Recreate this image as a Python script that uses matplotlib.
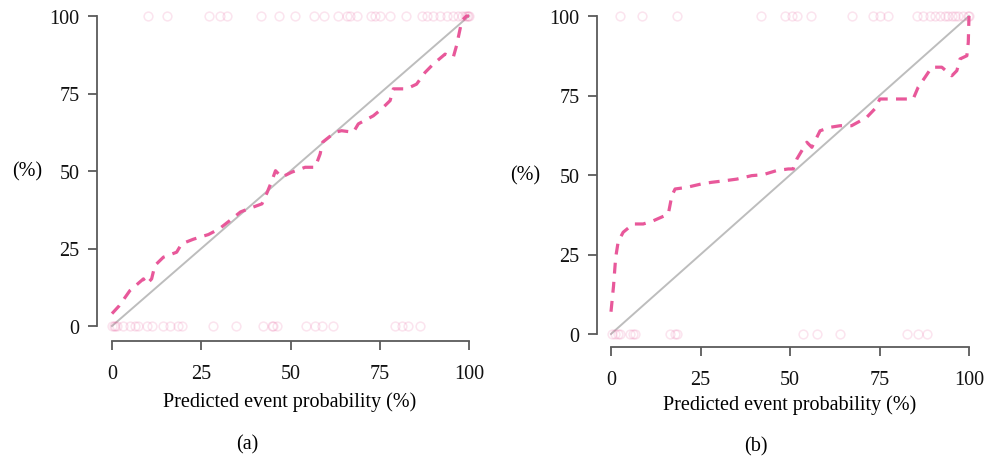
import numpy as np
import matplotlib
matplotlib.use("Agg")
import matplotlib.pyplot as plt

plt.rcParams["font.family"] = ["Liberation Serif", "DejaVu Serif"]

PINK = "#e8589a"
GREY_LINE = "#bdbdbd"
SPINE = "#5a5a5a"

# panel (a): calibration curve
a_curve_x = [0, 2, 5, 8.8, 9.7, 11.1, 12, 14.4, 18.1, 19.5, 22.8, 27, 30, 33, 36, 38,
             42, 43.5, 44.8, 45.8, 47.5, 50.3, 54.1, 56.9, 58.3, 59, 62.5, 64.3,
             67.6, 69, 73.2, 75.5, 77.9, 78.8, 82.5, 85.3, 87.7, 90, 93.3, 95.6,
             96.5, 97, 98, 99.3, 100]
a_curve_y = [4, 6.5, 11.4, 15.2, 13.5, 15.2, 19.5, 22.2, 23.8, 26.5, 28, 29.5, 31.3,
             34, 36.8, 37.7, 39.4, 43.2, 46.9, 50.1, 48, 49.6, 51.2, 51.2, 55.5,
             59.3, 62.5, 63, 62.5, 65.2, 67.8, 70, 72.7, 76.5, 76.5, 78, 81.8,
             84.5, 87.7, 86.7, 90.4, 93.1, 98.5, 100, 100]
# observed outcomes (rug of events / non-events)
a_events_x = [10, 15.5, 27.2, 30.3, 32.1, 41.7, 46.9, 51.2, 56.7, 59.3, 63.2, 65.8,
              66.7, 68.6, 72.5, 73.7, 75, 77.9, 82.4, 86.8, 88.2, 90, 91.9, 93.8,
              95.6, 97, 98, 98.9, 99.5, 99.8, 100]
a_nonevents_x = [0.1, 0.5, 0.8, 1.3, 3.2, 5, 6.4, 7.4, 9.7, 11.1, 14.4, 16.2, 18.6,
                 19.5, 28.4, 34.7, 42.4, 44.7, 45.2, 46.1, 54.3, 56.9, 58.7, 62,
                 79.3, 81.1, 83, 86.3]

# panel (b)
b_curve_x = [0, 0.7, 1.3, 2, 3.4, 6.2, 9, 11.8, 16, 17, 17.9, 21.1, 25.3, 28.1,
             31.8, 35.1, 39.3, 42.5, 46.3, 49.5, 50.9, 51.9, 54.7, 56.1, 58.4,
             61.2, 64, 67.2, 71.4, 73.7, 75.1, 79.8, 84.4, 85.8, 87.7, 89.6, 92.4,
             95.2, 96.6, 97.5, 99.4, 99.8, 100]
b_curve_y = [7, 15, 24, 29, 32, 34.6, 34.6, 35.6, 37.7, 43.5, 45.6, 46.1, 47.2,
             47.7, 48.2, 48.7, 49.8, 50.1, 51.4, 51.9, 51.9, 55, 60.3, 58.7, 63.9,
             65, 65.5, 65.5, 68.1, 70.8, 73.9, 73.9, 73.9, 77.6, 80.7, 83.9, 83.9,
             81.2, 82.8, 86.5, 87.5, 91.7, 100]
b_events_x = [2.5, 8.6, 18.5, 41.8, 48.6, 50.5, 51.9, 55.8, 67.4, 73.3, 75.1, 77.5,
              85.4, 87.2, 89.1, 90.5, 91.9, 93.3, 94.2, 95.2, 96.1, 97, 98.4,
              99.8, 100]
b_nonevents_x = [0.2, 1.1, 2, 2.5, 5.3, 6.1, 6.7, 16.5, 17.9, 18.5, 53.7, 57.6,
                 64, 82.6, 85.8, 88.2]

ticks = [0, 25, 50, 75, 100]

W, H = 986, 460
fig = plt.figure(figsize=(W / 100, H / 100), dpi=100)


def px_rect(x0, x1, y_top, y_bot):
    return [x0 / W, (H - y_bot) / H, (x1 - x0) / W, (y_bot - y_top) / H]


def draw_panel(ax, cx, cy, ev, nev, off_left, off_bottom):
    ax.plot([0, 100], [0, 100], color=GREY_LINE, lw=1.4, zorder=2, clip_on=False)
    ax.plot(cx, cy, color=PINK, lw=2.3, dashes=(3.4, 2.6), zorder=3,
            clip_on=False, solid_capstyle="butt")
    ax.plot(ev, [100] * len(ev), "o", mfc="none", mec=PINK, mew=1.1, ms=6.3,
            alpha=0.16, clip_on=False, zorder=4)
    ax.plot(nev, [0] * len(nev), "o", mfc="none", mec=PINK, mew=1.1, ms=6.3,
            alpha=0.16, clip_on=False, zorder=4)
    ax.set_xlim(0, 100)
    ax.set_ylim(0, 100)
    ax.set_xticks(ticks)
    ax.set_yticks(ticks)
    for s in ["top", "right"]:
        ax.spines[s].set_visible(False)
    ax.spines["left"].set_position(("outward", off_left))
    ax.spines["bottom"].set_position(("outward", off_bottom))
    ax.spines["left"].set_bounds(0, 100)
    ax.spines["bottom"].set_bounds(0, 100)
    for s in ["left", "bottom"]:
        ax.spines[s].set_color(SPINE)
        ax.spines[s].set_linewidth(1.3)
    ax.tick_params(axis="both", direction="out", length=6.5, width=1.3,
                   color=SPINE, labelsize=fs, labelcolor="#111111")
    ax.tick_params(axis="y", pad=6)
    ax.tick_params(axis="x", pad=10)
    ax.patch.set_visible(False)


fs = 14.5
ax_a = fig.add_axes(px_rect(112, 469, 17, 327))
draw_panel(ax_a, a_curve_x, a_curve_y, a_events_x, a_nonevents_x, 10.8, 10.8)
ax_b = fig.add_axes(px_rect(611, 969, 17, 335))
draw_panel(ax_b, b_curve_x, b_curve_y, b_events_x, b_nonevents_x, 10.1, 9.4)

fig.text(27 / W, 1 - 172 / H, "(%)", ha="center", va="center", fontsize=fs)
fig.text(525 / W, 1 - 176 / H, "(%)", ha="center", va="center", fontsize=fs)
fig.text(290 / W, 1 - 402 / H, "Predicted event probability (%)", ha="center",
         va="center", fontsize=fs)
fig.text(790 / W, 1 - 405 / H, "Predicted event probability (%)", ha="center",
         va="center", fontsize=fs)
fig.text(247 / W, 1 - 445 / H, "(a)", ha="center", va="center", fontsize=fs)
fig.text(756 / W, 1 - 447 / H, "(b)", ha="center", va="center", fontsize=fs)

fig.savefig("out.png", dpi=100)
